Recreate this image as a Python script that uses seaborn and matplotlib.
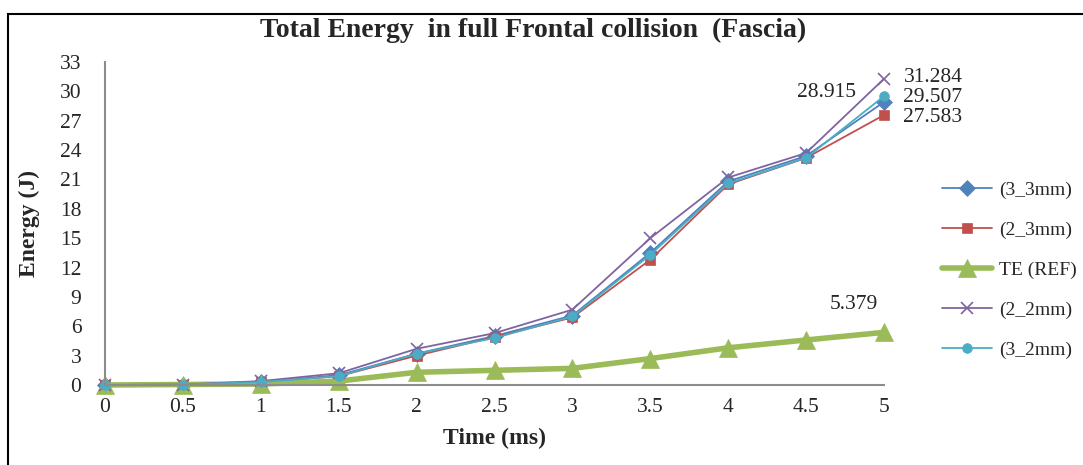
import matplotlib
matplotlib.use("Agg")
import matplotlib.pyplot as plt
import seaborn as sns
import pandas as pd
from matplotlib.patches import Rectangle

time_ms = [0, 0.5, 1, 1.5, 2, 2.5, 3, 3.5, 4, 4.5, 5]
e_3_3mm = [0, 0.05, 0.3, 1.0, 3.2, 5.0, 7.1, 13.5, 20.8, 23.4, 28.915]
e_2_3mm = [0, 0.05, 0.3, 0.9, 3.0, 4.9, 6.9, 12.8, 20.5, 23.2, 27.583]
e_te_ref = [0, 0.05, 0.1, 0.4, 1.3, 1.5, 1.7, 2.7, 3.8, 4.6, 5.379]
e_2_2mm = [0, 0.05, 0.4, 1.2, 3.7, 5.3, 7.7, 15.0, 21.2, 23.7, 31.284]
e_3_2mm = [0, 0.05, 0.3, 0.9, 3.2, 4.8, 7.0, 13.3, 20.6, 23.2, 29.507]
y_ticks = [0, 3, 6, 9, 12, 15, 18, 21, 24, 27, 30, 33]
x_ticks = [0, 0.5, 1, 1.5, 2, 2.5, 3, 3.5, 4, 4.5, 5]
x_ticklabels = ["0", "0.5", "1", "1.5", "2", "2.5", "3", "3.5", "4", "4.5", "5"]

series = [
    ("(3_3mm)", e_3_3mm, "#4F81BD", "D", 8, 1.3),
    ("(2_3mm)", e_2_3mm, "#C0504D", "s", 7, 1.3),
    ("TE (REF)", e_te_ref, "#9BBB59", "^", 13, 4.0),
    ("(2_2mm)", e_2_2mm, "#8064A2", "x", 8, 1.3),
    ("(3_2mm)", e_3_2mm, "#4BACC6", "o", 7, 1.3),
]

sns.set_style("white")
plt.rcParams["font.family"] = ["Liberation Serif", "DejaVu Serif"]

fig = plt.figure(figsize=(10.83, 4.65), dpi=100)
ax = fig.add_axes([105 / 1083, 1 - 385 / 465, (884 - 105) / 1083, (385 - 62) / 465])

for name, vals, color, marker, ms, lw in series:
    df = pd.DataFrame({"t": time_ms, "e": vals})
    sns.lineplot(data=df, x="t", y="e", ax=ax, color=color, marker=marker,
                 markersize=ms, linewidth=lw, label=name,
                 markeredgecolor=color, markeredgewidth=1.2 if marker == "x" else 0.5)

ax.set_xlim(0, 5)
ax.set_ylim(0, 33)
ax.set_xticks(x_ticks)
ax.set_xticklabels(x_ticklabels)
ax.set_yticks(y_ticks)
ax.tick_params(axis="both", labelsize=15.5, length=0)
ax.tick_params(axis="x", pad=9)
ax.tick_params(axis="y", pad=17)

for side in ["top", "right"]:
    ax.spines[side].set_visible(False)
for side in ["left", "bottom"]:
    ax.spines[side].set_color("#8c8c8c")
    ax.spines[side].set_linewidth(1.5)
for ln in ax.lines:
    ln.set_clip_on(False)

ax.set_xlabel("Time (ms)", fontsize=17, fontweight="bold", labelpad=8)
ax.set_ylabel("Energy (J)", fontsize=17, fontweight="bold", labelpad=14)
fig.text(533 / 1083, 1 - 30 / 465, "Total Energy  in full Frontal collision  (Fascia)",
         ha="center", va="center", fontsize=20, fontweight="bold")

# data labels
ax.annotate(f"{e_3_3mm[-1]:.3f}", (5, e_3_3mm[-1]), xytext=(-20, 7), textcoords="offset points",
            ha="right", va="center", fontsize=15.5)
ax.annotate(f"{e_2_2mm[-1]:.3f}", (5, e_2_2mm[-1]), xytext=(14, 1), textcoords="offset points",
            ha="left", va="center", fontsize=15.5)
ax.annotate(f"{e_3_2mm[-1]:.3f}", (5, e_3_2mm[-1]), xytext=(14, -1), textcoords="offset points",
            ha="left", va="center", fontsize=15.5)
ax.annotate(f"{e_2_3mm[-1]:.3f}", (5, e_2_3mm[-1]), xytext=(14, -2), textcoords="offset points",
            ha="left", va="center", fontsize=15.5)
ax.annotate(f"{e_te_ref[-1]:.3f}", (5, e_te_ref[-1]), xytext=(-22, 20), textcoords="offset points",
            ha="center", va="center", fontsize=15.5)

leg = ax.legend(loc="center left", bbox_to_anchor=(924 / 1083, 1 - 270 / 465),
                bbox_transform=fig.transFigure, frameon=False, fontsize=14,
                labelspacing=1.15, handlelength=2.6, handletextpad=0.35)

# outer frame
fig.patches.append(Rectangle((8 / 1083, -0.05), 1.2, 1 - 14 / 465 + 0.05,
                             transform=fig.transFigure, fill=False,
                             edgecolor="black", linewidth=1.5))

fig.savefig("out.png", dpi=100)
